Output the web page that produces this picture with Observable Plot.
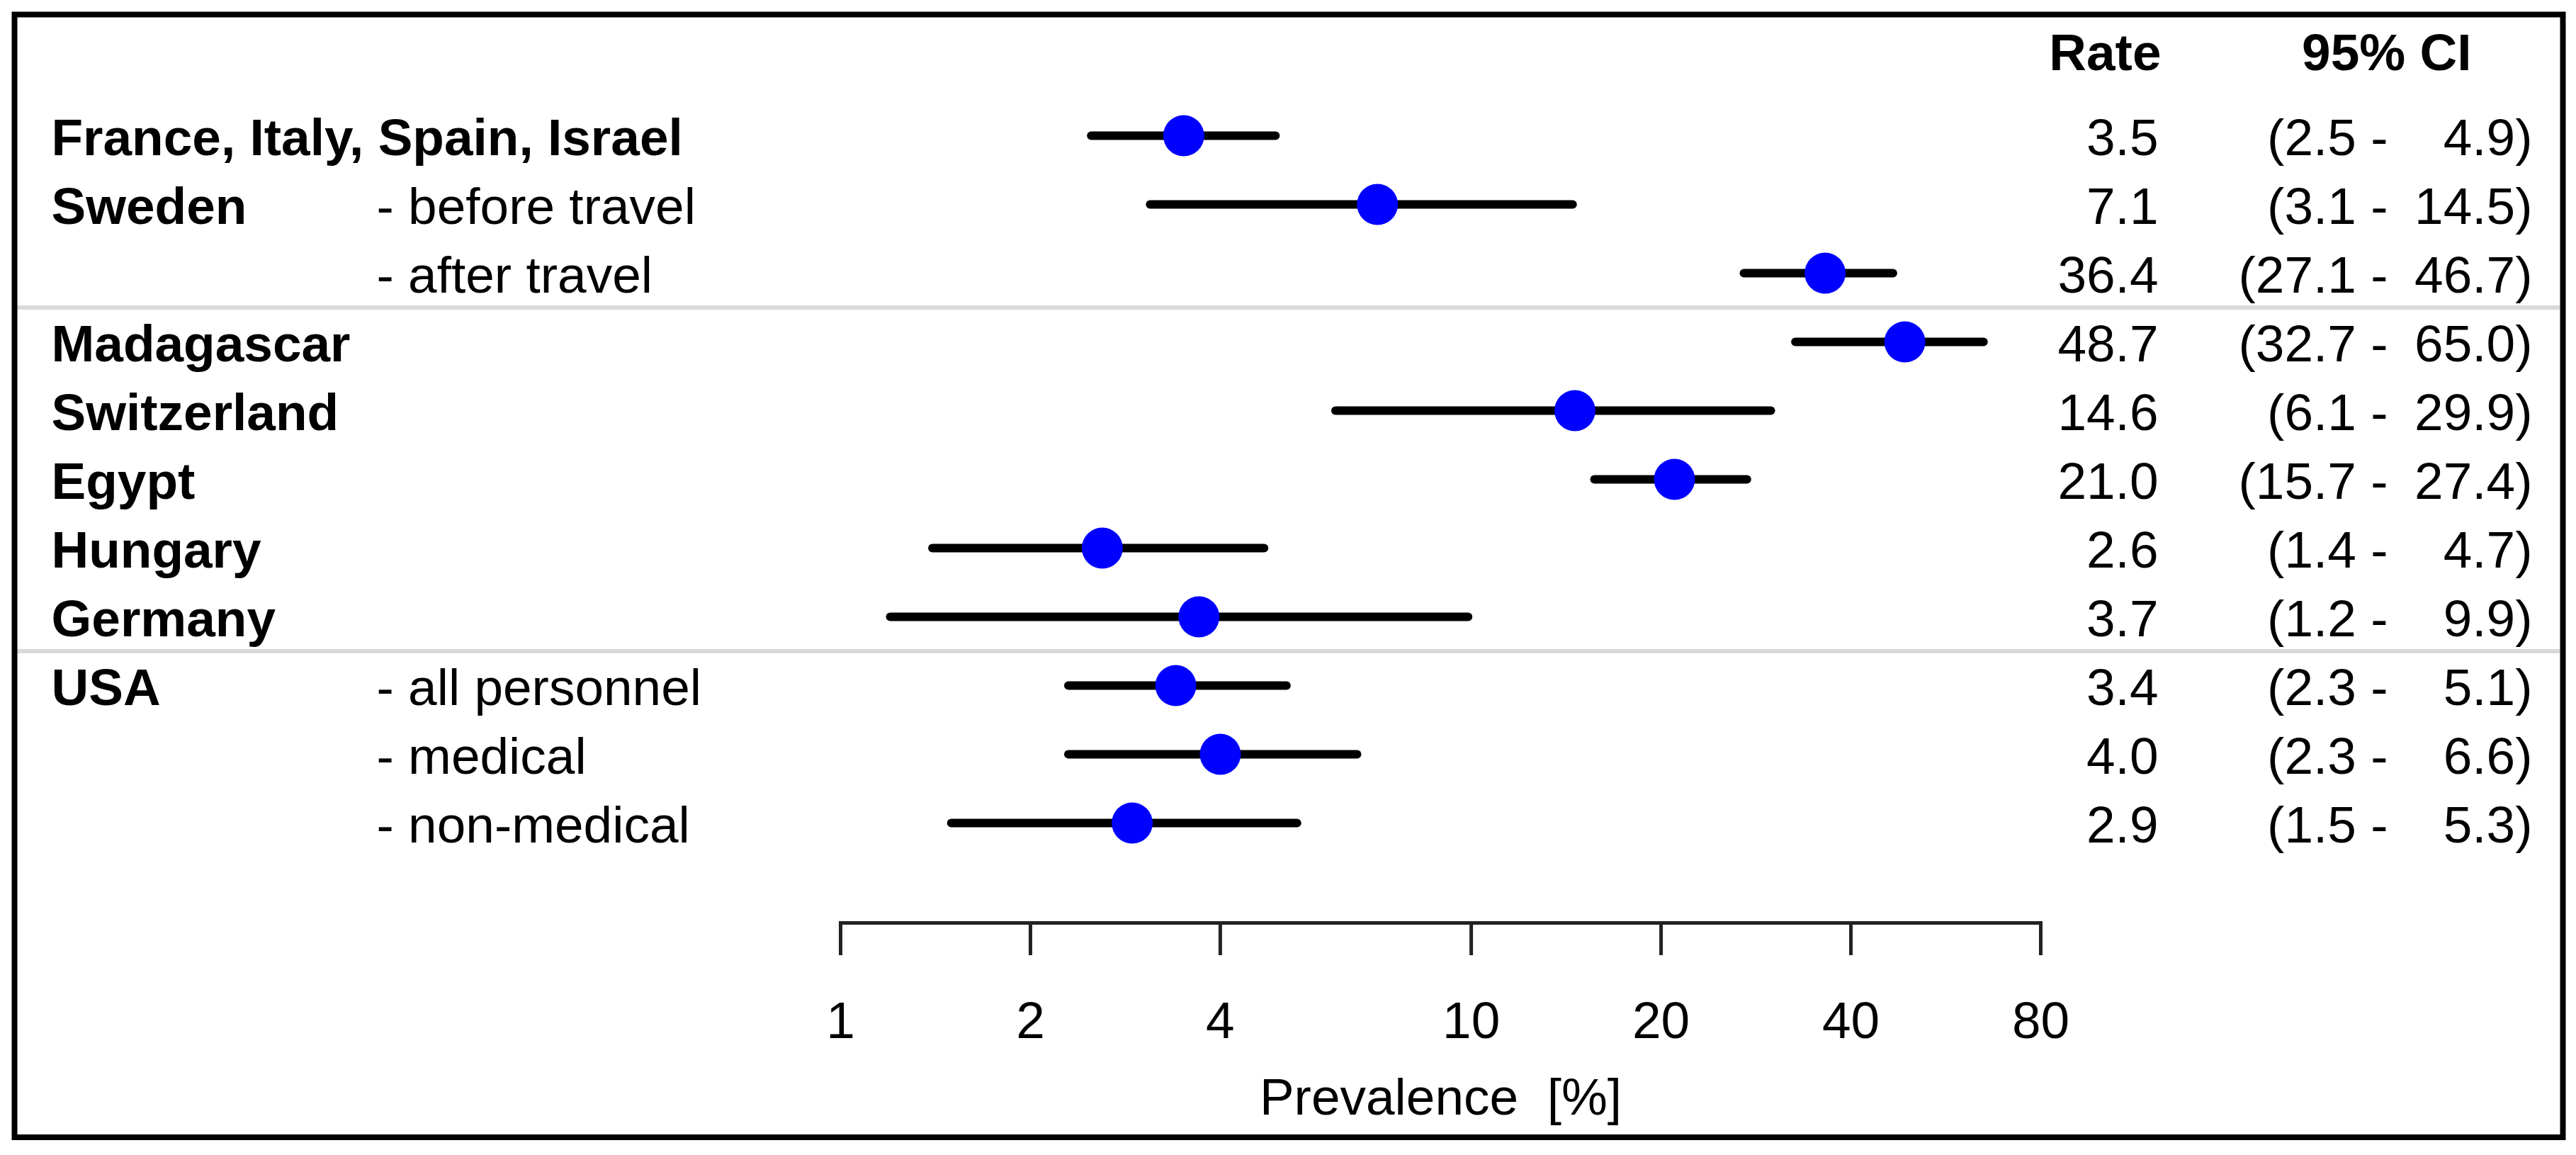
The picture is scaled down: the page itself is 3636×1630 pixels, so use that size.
<!DOCTYPE html>
<html>
<head>
<meta charset="utf-8">
<script src="https://cdn.jsdelivr.net/npm/d3@7"></script>
<script src="https://cdn.jsdelivr.net/npm/@observablehq/plot@0.6"></script>
<style>
  html, body { margin: 0; padding: 0; background: #fff; }
  svg { display: block; }
  svg text { white-space: pre; }
</style>
</head>
<body>
<div id="chart"></div>
<script>
// ---- data ----
const groups = ["France, Italy, Spain, Israel", "Sweden", "", "Madagascar", "Switzerland", "Egypt", "Hungary", "Germany", "USA", "", ""];
const subgroups = ["", "- before travel", "- after travel", "", "", "", "", "", "- all personnel", "- medical", "- non-medical"];
const blocks = [1, 1, 1, 2, 2, 2, 2, 2, 3, 3, 3];
const rates = [3.5, 7.1, 36.4, 48.7, 14.6, 21.0, 2.6, 3.7, 3.4, 4.0, 2.9];
const lower = [2.5, 3.1, 27.1, 32.7, 6.1, 15.7, 1.4, 1.2, 2.3, 2.3, 1.5];
const upper = [4.9, 14.5, 46.7, 65.0, 29.9, 27.4, 4.7, 9.9, 5.1, 6.6, 5.3];
const xTicks = [1, 2, 4, 10, 20, 40, 80];
const headerRate = "Rate";
const headerCI = "95% CI";
const axisLabel = "Prevalence  [%]";

const rows = rates.map((r, i) => ({i, group: groups[i], sub: subgroups[i], rate: r, lo: lower[i], hi: upper[i]}));
const separators = blocks.map((b, i) => (i > 0 && b !== blocks[i - 1]) ? i - 0.5 : null).filter(v => v !== null);

// ---- layout ----
const W = 3636, H = 1630;
const mL = 1186, mR = W - 2880, mT = 20, mB = H - 1302;
const FS = 73;
const TICK = 46;
const font = "'Liberation Sans', Arial, Helvetica, sans-serif";

const plot = Plot.plot({
  width: W,
  height: H,
  marginLeft: mL,
  marginRight: mR,
  marginTop: mT,
  marginBottom: mB,
  style: {fontFamily: font, fontSize: FS + "px", color: "#000", background: "#fff", overflow: "visible"},
  x: {type: "log", domain: [1, 80], axis: null},
  y: {domain: [0, 10], range: [191, 1161], axis: null},
  marks: [
    // group separators spanning the whole box
    Plot.ruleY(separators, {stroke: "#d9d9d9", strokeWidth: 6, insetLeft: -(mL - 24), insetRight: -(3613 - (W - mR))}),
    // outer box
    Plot.frame({stroke: "#000", strokeWidth: 8, insetLeft: -(mL - 20), insetRight: -(3617 - (W - mR)), insetTop: 0, insetBottom: -(1604.5 - (H - mB))}),
    // axis line, ticks and tick labels
    Plot.frame({anchor: "bottom", stroke: "#222", strokeWidth: 5}),
    Plot.ruleX(xTicks, {x: d => d, stroke: "#222", strokeWidth: 5, insetTop: (H - mB) - mT, insetBottom: -TICK}),
    Plot.text(xTicks, {x: d => d, text: d => `${d}`, frameAnchor: "bottom", lineAnchor: "top", dy: TICK + 65, fontSize: FS, fill: "#000"}),
    Plot.text([axisLabel], {frameAnchor: "bottom", lineAnchor: "middle", dy: 1549 - 1302, fontSize: FS, fill: "#000"}),
    // confidence intervals and points
    Plot.ruleY(rows, {y: "i", x1: "lo", x2: "hi", stroke: "#000", strokeWidth: 12, strokeLinecap: "round"}),
    Plot.dot(rows, {x: "rate", y: "i", r: 29, fill: "#0000ff", stroke: null}),
    // left labels
    Plot.text(rows, {y: "i", text: "group", frameAnchor: "left", textAnchor: "start", dx: 72 - mL, dy: 4, fontSize: FS, fontWeight: "bold", fill: "#000"}),
    Plot.text(rows, {y: "i", text: "sub", frameAnchor: "left", textAnchor: "start", dx: 531 - mL, dy: 4, fontSize: FS, fill: "#000"}),
    // right columns
    Plot.text([headerRate], {frameAnchor: "top-right", textAnchor: "end", lineAnchor: "middle", dx: 3050 - (W - mR), dy: 75.5 - mT, fontSize: FS, fontWeight: "bold", fill: "#000"}),
    Plot.text([headerCI], {frameAnchor: "top-right", textAnchor: "end", lineAnchor: "middle", dx: 3488 - (W - mR), dy: 75.5 - mT, fontSize: FS, fontWeight: "bold", fill: "#000"}),
    Plot.text(rows, {y: "i", text: d => d.rate.toFixed(1), frameAnchor: "right", textAnchor: "end", dx: 3046 - (W - mR), dy: 4, fontSize: FS, fill: "#000"}),
    Plot.text(rows, {y: "i", text: d => `(${d.lo.toFixed(1)} -`, frameAnchor: "right", textAnchor: "end", dx: 3370 - (W - mR), dy: 4, fontSize: FS, fill: "#000"}),
    Plot.text(rows, {y: "i", text: d => `${d.hi.toFixed(1)})`, frameAnchor: "right", textAnchor: "end", dx: 3574 - (W - mR), dy: 4, fontSize: FS, fill: "#000"})
  ]
});
document.getElementById("chart").appendChild(plot);
</script>
</body>
</html>
